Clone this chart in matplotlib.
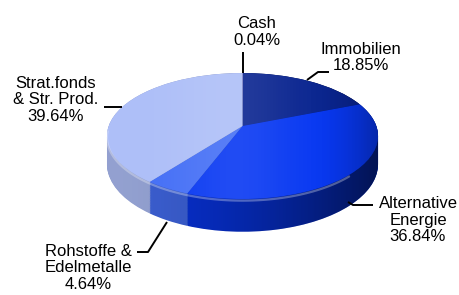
import numpy as np
import matplotlib
matplotlib.use("Agg")
import matplotlib.pyplot as plt
import matplotlib.transforms as mtransforms
from matplotlib.path import Path
from matplotlib.patches import PathPatch
from matplotlib.colors import to_rgb

# ---- data ----
categories = ["Cash", "Immobilien", "Alternative\nEnergie", "Rohstoffe &\nEdelmetalle", "Strat.fonds\n& Str. Prod."]
values = [0.04, 18.85, 36.84, 4.64, 39.64]
pct_labels = ["0.04%", "18.85%", "36.84%", "4.64%", "39.64%"]
top_colors = ["#7a3aa0", "#0a2590", "#0838f2", "#4670f6", "#aebff8"]

plt.rcParams['font.family'] = ['Liberation Sans', 'DejaVu Sans']

W, H = 459, 295
fig = plt.figure(figsize=(W / 100, H / 100), dpi=100)
fig.patch.set_facecolor("white")

ax = fig.add_axes([0, 0, 1, 1], facecolor="none")

# perspective projection of a unit disc (pixels, y from top)
X0, Y0 = 242.5, 126.0
P = 0.159
A, B, C = 133.8, 61.4, 27.5


class Persp(mtransforms.Transform):
    input_dims = output_dims = 2
    is_separable = False
    has_inverse = False

    def __init__(self, h):
        super().__init__()
        self.h = h

    def transform_non_affine(self, values):
        values = np.asarray(values, float)
        u, v = values[:, 0], values[:, 1]
        d = 1 + P * v
        x = X0 + A * u / d
        y = Y0 - (B * v + C * self.h) / d
        return np.column_stack([x, y])


def proj(u, v, h):
    return Persp(h).transform_non_affine(np.column_stack([u, v]))


def darker(c, f):
    r, g, b = to_rgb(c)
    return (r * f, g * f, b * f)


side_colors = [darker(c, 0.86) for c in top_colors]

# side walls: stacked pies from bottom (h=-1) to top
for h in np.linspace(-1, 0, 45):
    ws, _ = ax.pie(values, colors=side_colors, radius=1, center=(0, 0), startangle=90,
                   counterclock=False, wedgeprops=dict(linewidth=0))
    for w in ws:
        w.set_transform(Persp(h) + ax.transData)
        w.set_zorder(1)

# silhouette of the cylinder = convex hull of both rims
th = np.linspace(0, 2 * np.pi, 360, endpoint=False)
pts = np.vstack([proj(np.cos(th), np.sin(th), 0), proj(np.cos(th), np.sin(th), -1)])


def hull(p):
    p = sorted(map(tuple, p))
    def cross(o, a, b):
        return (a[0]-o[0])*(b[1]-o[1]) - (a[1]-o[1])*(b[0]-o[0])
    lo, up = [], []
    for q in p:
        while len(lo) >= 2 and cross(lo[-2], lo[-1], q) <= 0:
            lo.pop()
        lo.append(q)
    for q in reversed(p):
        while len(up) >= 2 and cross(up[-2], up[-1], q) <= 0:
            up.pop()
        up.append(q)
    return np.array(lo[:-1] + up[:-1])


hp = hull(pts)
cyl = PathPatch(Path(np.vstack([hp, hp[:1]]), closed=True), facecolor="none",
                edgecolor="none", transform=ax.transData)
ax.add_patch(cyl)
xs = np.linspace(0, 1, 256)
grad = np.zeros((2, 256, 4))
grad[..., 3] = (0.02 + 0.58 * xs ** 1.8)[None, :]
xmin, xmax = hp[:, 0].min(), hp[:, 0].max()
ymin, ymax = hp[:, 1].min(), hp[:, 1].max()
im = ax.imshow(grad, extent=(xmin, xmax, ymax, ymin), aspect="auto", zorder=2)
im.set_clip_path(cyl)

# top face
wedges, _ = ax.pie(values, colors=top_colors, radius=1, center=(0, 0), startangle=90,
                   counterclock=False, wedgeprops=dict(linewidth=0))
for w in wedges:
    w.set_transform(Persp(0) + ax.transData)
    w.set_zorder(3)

# top face shading
tp = proj(np.cos(th), np.sin(th), 0)
top_clip = PathPatch(Path(np.vstack([tp, tp[:1]]), closed=True), facecolor="none",
                     edgecolor="none", transform=ax.transData)
ax.add_patch(top_clip)
g2 = np.zeros((2, 256, 4))
g2[..., :3] = 1.0
g2[..., 3] = (0.10 * np.exp(-((xs - 0.47) / 0.22) ** 2))[None, :]
im2 = ax.imshow(g2, extent=(xmin, xmax, ymax, ymin), aspect="auto", zorder=4)
im2.set_clip_path(top_clip)
g3 = np.zeros((2, 256, 4))
g3[..., 3] = (0.3 * np.clip((xs - 0.72) / 0.28, 0, 1) ** 2)[None, :]
im3 = ax.imshow(g3, extent=(xmin, xmax, ymax, ymin), aspect="auto", zorder=4)
im3.set_clip_path(top_clip)

# light rim along the front edge of the top face
tf = np.linspace(np.pi * 1.02, np.pi * 1.75, 120)
rim = proj(np.cos(tf), np.sin(tf), -0.05)
ax.plot(rim[:, 0], rim[:, 1], color="white", alpha=0.3, lw=1.6, zorder=4.5,
        solid_capstyle="round")

ax.set_xlim(0, W)
ax.set_ylim(H, 0)
ax.set_aspect("auto")
ax.axis("off")

# labels and leader lines (pixel coordinates)
label_pos = [(257, 32), (361, 57.5), (418, 220), (88, 268), (56, 100)]
for cat, pct, (x, y) in zip(categories, pct_labels, label_pos):
    ax.text(x, y, f"{cat}\n{pct}", ha="center", va="center", fontsize=12,
            linespacing=1.15, color="black", zorder=6)

leaders = [
    [(243, 52), (243, 73)],
    [(307, 80), (318, 72), (329, 72)],
    [(348, 202), (353, 205), (373, 205)],
    [(167, 222), (148, 252), (137, 252)],
    [(104, 107), (122, 107)],
]
for seg in leaders:
    lx, ly = zip(*seg)
    ax.plot(lx, ly, color="black", lw=1.4, solid_capstyle="butt", zorder=5)

fig.savefig("out.png", dpi=100)
